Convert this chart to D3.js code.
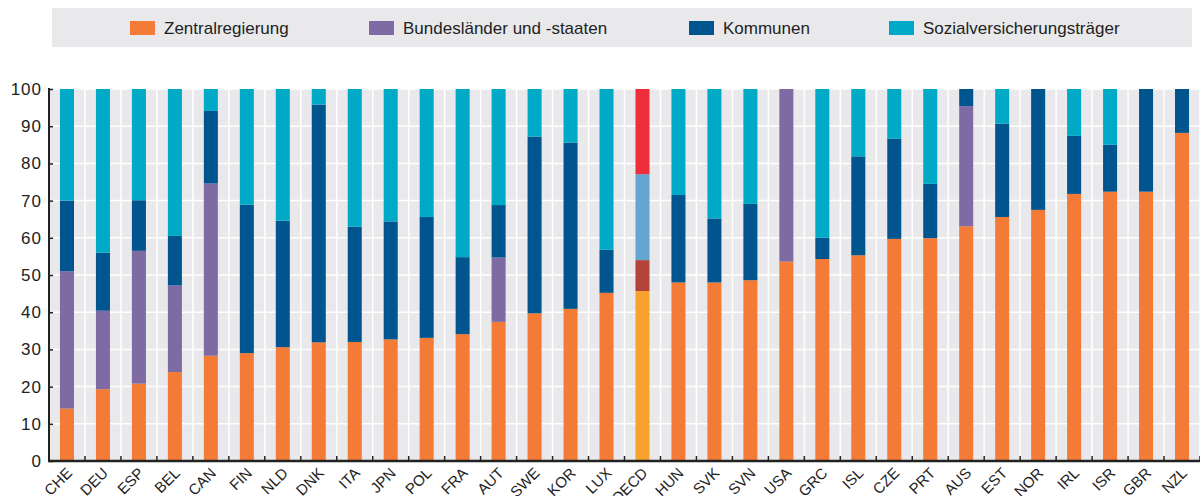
<!DOCTYPE html>
<html>
<head>
<meta charset="utf-8">
<script src="https://cdn.jsdelivr.net/npm/d3@7"></script>
<style>
body { margin: 0; background: #fff; }
text { font-family: "Liberation Sans Narrow", "Liberation Sans", Arial, sans-serif; fill: #222; }
</style>
</head>
<body>
<script>
// categories and stacked shares (percent)
var countries = ["CHE","DEU","ESP","BEL","CAN","FIN","NLD","DNK","ITA","JPN","POL","FRA","AUT","SWE","KOR","LUX","OECD","HUN","SVK","SVN","USA","GRC","ISL","CZE","PRT","AUS","EST","NOR","IRL","ISR","GBR","NZL"];
var zentral = [14.1,19.3,20.8,23.9,28.3,29.0,30.6,31.9,32.0,32.7,33.1,34.1,37.4,39.7,40.9,45.2,45.7,48.0,48.0,48.6,53.6,54.3,55.3,59.7,59.9,63.1,65.6,67.5,71.8,72.4,72.4,88.2];
var bundes  = [36.9,21.1,35.7,23.3,46.3,0,0,0,0,0,0,0,17.3,0,0,0,8.3,0,0,0,46.4,0,0,0,0,32.3,0,0,0,0,0,0];
var kommunen = [19.0,15.6,13.6,13.3,19.5,39.9,34.0,63.9,31.0,31.7,32.5,20.7,14.1,47.5,44.7,11.6,23.1,23.5,17.2,20.5,0,5.7,26.6,27.0,14.6,4.6,25.1,32.5,15.6,12.6,27.6,11.8];
var sozial = [30.0,44.0,29.9,39.5,5.9,31.1,35.4,4.2,37.0,35.6,34.4,45.2,31.2,12.8,14.4,43.2,22.9,28.5,34.8,30.9,0,40.0,18.1,13.3,25.5,0,9.3,0,12.6,15.0,0,0];
var yTicks = [0,10,20,30,40,50,60,70,80,90,100];
var keys = ["zentral","bundes","kommunen","sozial"];
var legendLabels = ["Zentralregierung","Bundesländer und -staaten","Kommunen","Sozialversicherungsträger"];
var colors = ["#f47b35","#7f6ba3","#00558f","#00aac7"];
var oecdColors = ["#f7a22e","#b3443a","#62a6d1","#ee2f3b"];

function draw() {
    var W = 1200, H = 496;
    var svg = d3.select("body").append("svg").attr("width", W).attr("height", H);

    // legend
    svg.append("rect").attr("x", 52).attr("y", 8).attr("width", 1140).attr("height", 39).attr("fill", "#e9e9ec");
    var legX = [130, 369, 689, 889];
    legendLabels.forEach(function (l, i) {
        svg.append("rect").attr("x", legX[i]).attr("y", 21).attr("width", 25).attr("height", 14).attr("fill", colors[i]);
        svg.append("text").attr("x", legX[i] + 34).attr("y", 34).attr("font-size", 17).text(l);
    });

    var pLeft = 49, pRight = 1200, pTop = 89, pBottom = 461;
    var x = d3.scaleBand().domain(countries).range([pLeft, pRight]).paddingInner(0.61).paddingOuter(0.305);
    var y = d3.scaleLinear().domain([0, 100]).range([pBottom, pTop]);

    svg.append("rect").attr("x", pLeft).attr("y", pTop).attr("width", pRight - pLeft).attr("height", pBottom - pTop).attr("fill", "#e9e9ec");

    // grid
    var step = x.step();
    var bounds = d3.range(1, countries.length + 1).map(function (i) { return pLeft + i * step; });
    svg.selectAll(".vg").data(bounds).enter().append("line")
        .attr("x1", d => d).attr("x2", d => d).attr("y1", pTop).attr("y2", pBottom)
        .attr("stroke", "#fff").attr("stroke-width", 1.5);
    svg.selectAll(".hg").data(yTicks.slice(1)).enter().append("line")
        .attr("x1", pLeft).attr("x2", pRight).attr("y1", d => y(d)).attr("y2", d => y(d))
        .attr("stroke", "#fff").attr("stroke-width", 1.5);

    // stacked bars
    var rows = countries.map(function (c, i) {
        return { c: c, zentral: zentral[i], bundes: bundes[i], kommunen: kommunen[i], sozial: sozial[i] };
    });
    var stack = d3.stack().keys(keys)(rows);
    stack.forEach(function (layer, k) {
        svg.selectAll(".b" + k).data(layer).enter().append("rect")
            .attr("x", d => x(d.data.c))
            .attr("width", x.bandwidth())
            .attr("y", d => y(d[1]))
            .attr("height", d => Math.max(0, y(d[0]) - y(d[1])))
            .attr("fill", d => d.data.c == "OECD" ? oecdColors[k] : colors[k]);
    });

    // axes
    var yAxis = svg.append("g").attr("transform", "translate(" + pLeft + ",0)")
        .call(d3.axisRight(y).tickValues(yTicks).tickSize(4).tickFormat(""));
    yAxis.select(".domain").remove();
    yAxis.selectAll("line").attr("stroke", "#222").attr("stroke-width", 1.5);
    svg.selectAll(".yl").data(yTicks).enter().append("text")
        .attr("x", 42).attr("y", d => y(d) + 6).attr("text-anchor", "end")
        .attr("font-size", 17).attr("letter-spacing", 1)
        .attr("font-family", "Liberation Sans, Arial, sans-serif").text(d => d);
    svg.append("line").attr("x1", pLeft).attr("x2", pLeft).attr("y1", pTop - 1).attr("y2", pBottom + 1)
        .attr("stroke", "#222").attr("stroke-width", 2);
    svg.selectAll(".xt").data(bounds).enter().append("line")
        .attr("x1", d => d).attr("x2", d => d).attr("y1", pBottom).attr("y2", pBottom - 5)
        .attr("stroke", "#222").attr("stroke-width", 1.5);
    svg.append("line").attr("x1", pLeft - 1).attr("x2", pRight).attr("y1", pBottom).attr("y2", pBottom)
        .attr("stroke", "#222").attr("stroke-width", 2.5);

    svg.selectAll(".xl").data(countries).enter().append("text")
        .attr("transform", d => "translate(" + (x(d) + x.bandwidth() / 2 + 6) + "," + (pBottom + 13) + ") rotate(-45)")
        .attr("text-anchor", "end")
        .attr("font-size", 15).attr("font-family", "Liberation Sans, Arial, sans-serif").text(d => d);
}
draw();
</script>
</body>
</html>
